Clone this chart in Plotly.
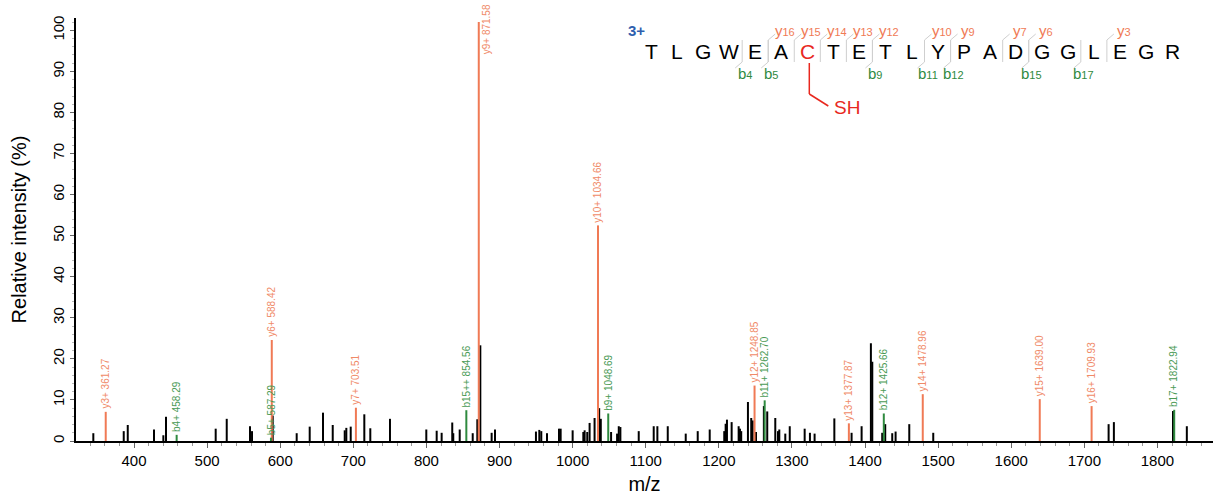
import plotly.graph_objects as go

# ---------------- data ----------------
black_mz = [344.3, 385.9, 391.4, 427.3, 440.1, 443.7, 511.7, 526.8, 558.6, 561.4,
            589.7, 622.5, 640.3, 658.5, 671.8, 688.2, 690.4, 696.4, 715.0, 723.2,
            750.1, 799.8, 814.0, 820.8, 835.3, 836.7, 845.5, 863.3, 869.6, 873.7,
            889.2, 893.8, 949.8, 954.4, 957.1, 964.9, 981.3, 983.6, 1000.0, 1014.6,
            1016.4, 1020.0, 1023.2, 1030.0, 1036.3, 1038.5, 1052.6, 1060.8, 1063.1, 1065.3,
            1090.4, 1110.9, 1115.9, 1130.1, 1154.7, 1171.1, 1187.5, 1207.4, 1209.3, 1211.1,
            1217.5, 1227.1, 1228.9, 1230.6, 1239.8, 1244.3, 1246.2, 1250.8, 1261.6, 1266.2,
            1277.2, 1280.9, 1282.7, 1290.9, 1297.0, 1317.4, 1324.6, 1331.0, 1358.0, 1381.6,
            1395.3, 1408.0, 1409.9, 1423.5, 1427.6, 1437.2, 1441.8, 1460.5, 1493.3, 1733.2,
            1740.4, 1821.3, 1840.2]
black_int = [1.9, 2.4, 3.9, 2.8, 1.4, 5.9, 3.0, 5.4, 3.6, 2.4,
             6.2, 1.9, 3.5, 6.9, 3.9, 2.6, 3.2, 3.5, 6.5, 3.1,
             5.4, 2.8, 2.5, 2.0, 4.5, 1.9, 2.8, 1.9, 5.3, 23.3,
             2.0, 2.8, 2.3, 2.7, 2.4, 1.9, 3.0, 3.0, 2.6, 2.2,
             2.6, 2.2, 4.4, 5.6, 8.0, 5.4, 2.2, 1.8, 3.6, 3.4,
             2.4, 3.6, 3.6, 3.6, 1.8, 2.4, 2.8, 2.4, 4.2, 5.2,
             4.6, 3.6, 3.0, 2.4, 9.5, 5.6, 5.0, 2.2, 8.5, 7.2,
             5.6, 2.4, 2.8, 1.8, 3.6, 3.0, 2.0, 1.8, 5.5, 2.0,
             3.6, 23.8, 19.3, 2.0, 4.1, 1.9, 2.3, 4.1, 2.0, 4.1,
             4.6, 7.3, 3.6]

y_names = ["y3+", "y6+", "y7+", "y9+", "y10+", "y12+", "y13+", "y14+", "y15+", "y16+"]
y_mz = [361.27, 588.42, 703.51, 871.58, 1034.66, 1248.85, 1377.87, 1478.96, 1639.00, 1709.93]
y_int = [7.1, 24.6, 8.1, 102.0, 52.5, 13.5, 4.3, 11.4, 10.2, 8.5]

b_names = ["b4+", "b5+", "b15++", "b9+", "b11+", "b12+", "b17+"]
b_mz = [458.29, 587.29, 854.56, 1048.69, 1262.70, 1425.66, 1822.94]
b_int = [1.5, 0.8, 7.5, 6.7, 9.9, 6.7, 7.6]

sequence = list("TLGWEACTETLYPADGGLEGR")
y_cleave = [16, 15, 14, 13, 12, 10, 9, 7, 6, 3]      # y ion numbers shown on sequence
b_cleave = [4, 5, 9, 11, 12, 15, 17]                 # b ion numbers shown on sequence
charge_text = "3+"
mod_text = "SH"
mod_residue = 7

x_ticks = list(range(400, 1801, 100))
y_ticks = list(range(0, 101, 10))

# ---------------- styles ----------------
ORANGE = "#F07A55"
ORANGE_TXT = "#F08A68"
GREEN = "#2F8A3F"
GREEN_TXT = "#4A9A55"
BLUE = "#2F5FAE"
FONT = "Liberation Sans, Arial, sans-serif"

W, H = 1216, 499
L, R, T, B = 76, 3, 18, 58
PW, PH = W - L - R, H - T - B


def px(x):
    return (x - L) / PW


def py(y):
    return (H - B - y) / PH


def stems(xs, ys):
    X, Y = [], []
    for x, y in zip(xs, ys):
        X += [x, x, None]
        Y += [0, y, None]
    return X, Y


fig = go.Figure()
for xs, ys, col in [(black_mz, black_int, "black"), (y_mz, y_int, ORANGE), (b_mz, b_int, GREEN)]:
    X, Y = stems(xs, ys)
    fig.add_trace(go.Scatter(x=X, y=Y, mode="lines", line=dict(color=col, width=2),
                             hoverinfo="skip", showlegend=False, cliponaxis=False))

ann = []
for n, m, h in zip(y_names, y_mz, y_int):
    if h > 95:
        # label of the base peak sits beside the line, under the top edge
        ann.append(dict(x=m, y=py(2), xref="x", yref="paper", text=f"{n} {m:.2f}", textangle=-90,
                        showarrow=False, xanchor="left", yanchor="top", xshift=1,
                        font=dict(size=10, color=ORANGE_TXT, family=FONT)))
    else:
        ann.append(dict(x=m, y=h, xref="x", yref="y", text=f"{n} {m:.2f}", textangle=-90,
                        showarrow=False, xanchor="center", yanchor="bottom", yshift=1,
                        font=dict(size=10, color=ORANGE_TXT, family=FONT)))
for n, m, h in zip(b_names, b_mz, b_int):
    ann.append(dict(x=m, y=h, xref="x", yref="y", text=f"{n} {m:.2f}", textangle=-90,
                    showarrow=False, xanchor="center", yanchor="bottom", yshift=1,
                    font=dict(size=10, color=GREEN_TXT, family=FONT)))

# peptide sequence panel
x0, dx = 651, 26.05
seq_y = 51
for i, aa in enumerate(sequence):
    col = "#E8281E" if i + 1 == mod_residue else "black"
    ann.append(dict(x=px(x0 + i * dx), y=py(seq_y), xref="paper", yref="paper", text=aa,
                    showarrow=False, xanchor="center", yanchor="middle",
                    font=dict(size=21, color=col, family=FONT)))

ann.append(dict(x=px(636), y=py(30), xref="paper", yref="paper", text=f"<b>{charge_text}</b>",
                showarrow=False, xanchor="center", yanchor="middle",
                font=dict(size=15, color=BLUE, family=FONT)))

shapes = []
n_res = len(sequence)
for k in y_cleave:
    after = n_res - k
    cx = x0 + (after - 0.5) * dx
    shapes.append(dict(type="line", xref="paper", yref="paper", x0=px(cx), x1=px(cx),
                       y0=py(40), y1=py(62), line=dict(color="#CFCFCF", width=1)))
    shapes.append(dict(type="line", xref="paper", yref="paper", x0=px(cx), x1=px(cx + 7),
                       y0=py(40), y1=py(34), line=dict(color="#CFCFCF", width=1)))
    ann.append(dict(x=px(cx + 17), y=py(30), xref="paper", yref="paper",
                    text=f"y<span style='font-size:11px'>{k}</span>",
                    showarrow=False, xanchor="center", yanchor="middle",
                    font=dict(size=15, color=ORANGE, family=FONT)))
for k in b_cleave:
    cx = x0 + (k - 0.5) * dx
    shapes.append(dict(type="line", xref="paper", yref="paper", x0=px(cx), x1=px(cx),
                       y0=py(40), y1=py(62), line=dict(color="#CFCFCF", width=1)))
    shapes.append(dict(type="line", xref="paper", yref="paper", x0=px(cx), x1=px(cx - 7),
                       y0=py(62), y1=py(68), line=dict(color="#CFCFCF", width=1)))
    ann.append(dict(x=px(cx + 3), y=py(74), xref="paper", yref="paper",
                    text=f"b<span style='font-size:11px'>{k}</span>",
                    showarrow=False, xanchor="center", yanchor="middle",
                    font=dict(size=15, color=GREEN, family=FONT)))

cxm = x0 + (mod_residue - 1) * dx + 2
shapes.append(dict(type="line", xref="paper", yref="paper", x0=px(cxm), x1=px(cxm),
                   y0=py(63), y1=py(94), line=dict(color="#E8281E", width=1.5)))
shapes.append(dict(type="line", xref="paper", yref="paper", x0=px(cxm), x1=px(cxm + 19),
                   y0=py(94), y1=py(106), line=dict(color="#E8281E", width=1.5)))
ann.append(dict(x=px(832), y=py(108), xref="paper", yref="paper", text=mod_text,
                showarrow=False, xanchor="left", yanchor="middle",
                font=dict(size=19, color="#E8281E", family=FONT)))

fig.update_layout(
    width=W, height=H, margin=dict(l=L, r=R, t=T, b=B),
    paper_bgcolor="white", plot_bgcolor="white",
    font=dict(family=FONT, color="black"),
    annotations=ann, shapes=shapes,
    xaxis=dict(range=[320.6, 1876], tickvals=x_ticks, showgrid=False, zeroline=False,
               showline=True, linecolor="black", linewidth=1.5, ticks="outside", ticklen=5,
               tickcolor="#666", tickfont=dict(size=15),
               minor=dict(dtick=20, tick0=0, ticks="outside", ticklen=3, tickcolor="#999"),
               title=dict(text="m/z", font=dict(size=20), standoff=9)),
    yaxis=dict(range=[0, 103], tickvals=y_ticks, showgrid=False, zeroline=False,
               showline=True, linecolor="black", linewidth=1.5, ticks="outside", ticklen=4,
               tickcolor="#666", tickfont=dict(size=15), tickangle=-90,
               minor=dict(dtick=2, tick0=0, ticks="outside", ticklen=2, tickcolor="#BBB"),
               title=dict(text="Relative intensity (%)", font=dict(size=20), standoff=18)),
)

fig.write_html("out.html")
